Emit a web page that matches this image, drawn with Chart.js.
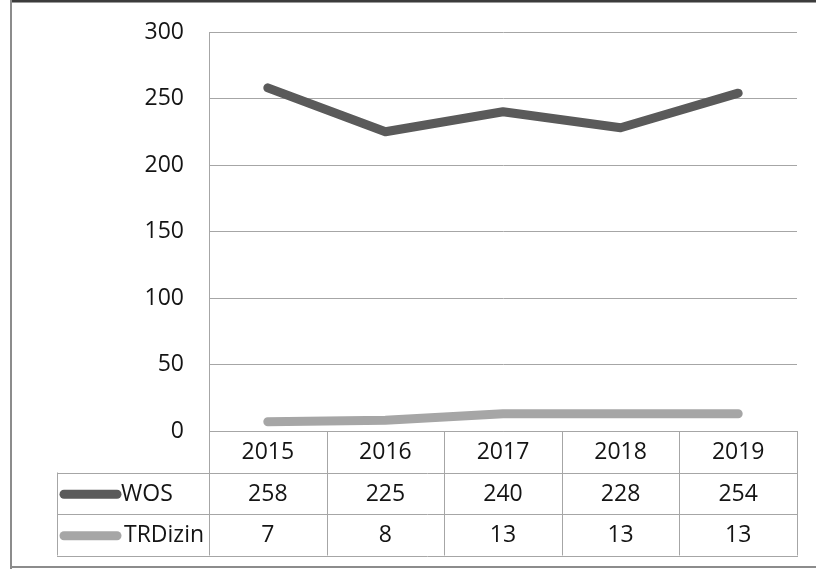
<!DOCTYPE html>
<html>
<head>
<meta charset="utf-8">
<script src="https://cdn.jsdelivr.net/npm/chart.js@4.4.1/dist/chart.umd.min.js"></script>
<style>
  html, body { margin: 0; padding: 0; background: #fff; }
  #wrap { width: 816px; height: 572px; position: relative; }
</style>
</head>
<body>
<div id="wrap"><canvas id="c" width="816" height="572"></canvas></div>
<script>
const categories = ['2015', '2016', '2017', '2018', '2019'];
const wosValues = [258, 225, 240, 228, 254];
const trdizinValues = [7, 8, 13, 13, 13];
const seriesNames = ['WOS', 'TRDizin'];
const yTicks = [0, 50, 100, 150, 200, 250, 300];

const FONT = '"Open Sans", "Liberation Sans", sans-serif';
const TEXT = '#141414';
const GRID = '#a6a6a6';
const COLORS = ['#5a5a5a', '#a6a6a6'];

const tablePlugin = {
  id: 'dataTable',
  beforeDraw(chart) {
    const ctx = chart.ctx;
    ctx.save();
    ctx.fillStyle = '#fff';
    ctx.fillRect(0, 0, chart.width, chart.height);
    // outer frame
    ctx.fillStyle = '#3c3c3c';
    ctx.fillRect(10, 0, chart.width - 10, 2);
    ctx.fillStyle = '#9a9a9a';
    ctx.fillRect(10, 2, chart.width - 10, 1);
    ctx.fillStyle = '#8c8c8c';
    ctx.fillRect(10, 0, 2, 569);
    ctx.fillRect(10, 566, chart.width - 10, 2);
    ctx.restore();
  },
  afterDraw(chart) {
    const ctx = chart.ctx;
    const x = chart.scales.x;
    const area = chart.chartArea;
    const half = (x.getPixelForValue(1) - x.getPixelForValue(0)) / 2;
    const rowH = 41.5;
    const top = area.bottom;
    const rows = [top, top + rowH, top + 2 * rowH, top + 3 * rowH];
    const tableLeft = 57;
    ctx.save();
    ctx.strokeStyle = GRID;
    ctx.lineWidth = 1;
    const hl = (y, x0, x1) => { ctx.beginPath(); ctx.moveTo(x0, Math.round(y) + 0.5); ctx.lineTo(x1, Math.round(y) + 0.5); ctx.stroke(); };
    const vl = (xx, y0, y1) => { ctx.beginPath(); ctx.moveTo(Math.round(xx) + 0.5, y0); ctx.lineTo(Math.round(xx) + 0.5, y1); ctx.stroke(); };
    hl(rows[1], tableLeft, area.right + 1);
    hl(rows[2], tableLeft, area.right + 1);
    hl(rows[3], tableLeft, area.right + 1);
    vl(tableLeft, rows[1], rows[3]);
    vl(area.left, area.bottom, rows[3]);
    for (let i = 0; i < categories.length; i++) {
      vl(x.getPixelForValue(i) + half, rows[0], rows[3]);
    }
    // cells
    ctx.fillStyle = TEXT;
    ctx.font = '23px ' + FONT;
    ctx.textAlign = 'center';
    ctx.textBaseline = 'middle';
    const all = [wosValues, trdizinValues];
    for (let r = 0; r < all.length; r++) {
      const cy = (rows[r + 1] + rows[r + 2]) / 2 + 1;
      for (let i = 0; i < categories.length; i++) {
        ctx.fillText(String(all[r][i]), x.getPixelForValue(i), cy);
      }
      // legend key
      ctx.strokeStyle = COLORS[r];
      ctx.lineWidth = 9;
      ctx.lineCap = 'round';
      ctx.beginPath();
      ctx.moveTo(64, cy);
      ctx.lineTo(117, cy);
      ctx.stroke();
      ctx.textAlign = 'left';
      ctx.fillText(seriesNames[r], r === 0 ? 121 : 124, cy);
      ctx.textAlign = 'center';
    }
    ctx.restore();
  }
};

new Chart(document.getElementById('c'), {
  type: 'line',
  data: {
    labels: categories,
    datasets: [
      { label: seriesNames[0], data: wosValues, borderColor: COLORS[0], backgroundColor: COLORS[0] },
      { label: seriesNames[1], data: trdizinValues, borderColor: COLORS[1], backgroundColor: COLORS[1] }
    ]
  },
  options: {
    responsive: false,
    animation: false,
    devicePixelRatio: 1,
    layout: { padding: { left: 0, top: 32, right: 19, bottom: 0 } },
    elements: {
      line: { borderWidth: 9, tension: 0, borderCapStyle: 'round', borderJoinStyle: 'round' },
      point: { radius: 0, hoverRadius: 0 }
    },
    plugins: { legend: { display: false }, tooltip: { enabled: false } },
    scales: {
      x: {
        type: 'category',
        offset: true,
        grid: { display: false, drawTicks: false },
        border: { display: true, color: GRID, width: 1 },
        ticks: { color: TEXT, font: { family: FONT, size: 23 }, padding: 8, maxRotation: 0 },
        afterFit(s) { s.height = 141; s.paddingLeft = 0; s.paddingRight = 0; }
      },
      y: {
        min: 0, max: 300,
        afterBuildTicks(s) { s.ticks = yTicks.map(v => ({ value: v })); },
        grid: { color: GRID, lineWidth: 1, drawTicks: false },
        border: { display: true, color: GRID, width: 1 },
        ticks: { color: TEXT, font: { family: FONT, size: 23 }, padding: 25 },
        afterFit(s) { s.width = 209; s.paddingTop = 0; s.paddingBottom = 0; }
      }
    }
  },
  plugins: [tablePlugin]
});
</script>
</body>
</html>
